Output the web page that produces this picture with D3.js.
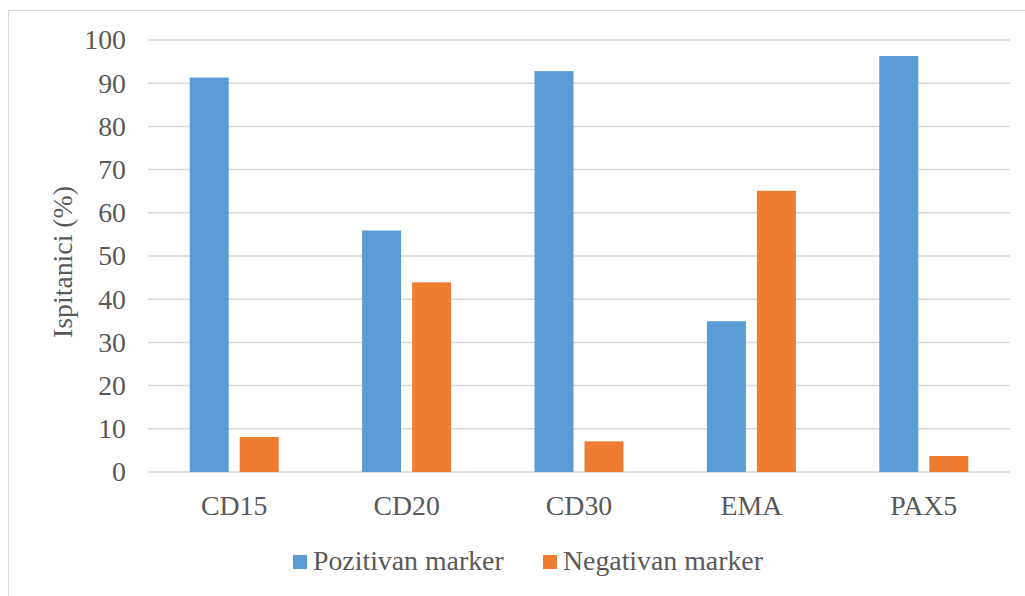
<!DOCTYPE html>
<html>
<head>
<meta charset="utf-8">
<script src="https://cdn.jsdelivr.net/npm/d3@7"></script>
<style>
  body { margin: 0; background: #fff; }
  svg text { font-family: "Liberation Serif", "Times New Roman", Times, "DejaVu Serif", serif !important; fill: #595959; }
</style>
</head>
<body>
<svg id="mainSvg"></svg>
<script>
const categories = ['CD15', 'CD20', 'CD30', 'EMA', 'PAX5'];
const seriesNames = ['Pozitivan marker', 'Negativan marker'];
const pozitivan = [91.3, 55.9, 92.8, 34.9, 96.3];
const negativan = [8.1, 43.9, 7.1, 65.1, 3.7];
const yTicks = [0, 10, 20, 30, 40, 50, 60, 70, 80, 90, 100];
const colors = ['#5B9BD5', '#ED7D31'];

const width = 1025;
const height = 596;
const plot = { left: 148, right: 1010, top: 40, bottom: 472 };
const fontSize = '27.8px';
const groupWidth = 89;

const svg = d3.select('#mainSvg')
  .attr('width', width)
  .attr('height', height);

// chart frame (right/bottom edges fall outside the picture)
svg.append('rect')
  .attr('x', 8.5).attr('y', 10.5)
  .attr('width', 1030).attr('height', 600)
  .attr('fill', 'none')
  .attr('stroke', '#D9D9D9');

const xScale = d3.scaleBand()
  .domain(categories)
  .range([plot.left, plot.right]);

const xInner = d3.scaleBand()
  .domain(seriesNames)
  .range([0, groupWidth])
  .paddingInner(0.22);

const yScale = d3.scaleLinear()
  .domain([0, 100])
  .range([plot.bottom, plot.top]);

// gridlines
svg.append('g')
  .selectAll('line')
  .data(yTicks)
  .enter()
  .append('line')
  .attr('x1', plot.left)
  .attr('x2', plot.right)
  .attr('y1', d => yScale(d))
  .attr('y2', d => yScale(d))
  .attr('stroke', '#D9D9D9')
  .attr('stroke-width', 1.5);

// y axis labels
const yAxis = d3.axisLeft(yScale).tickValues(yTicks).tickSize(0).tickPadding(0);
svg.append('g')
  .attr('transform', `translate(126,0)`)
  .call(yAxis)
  .attr('font-family', null)
  .attr('font-size', null)
  .call(g => g.select('.domain').remove())
  .selectAll('text')
  .style('font-size', fontSize)
  .attr('fill', '#595959');

// x axis labels
const xAxis = d3.axisBottom(xScale).tickSize(0).tickPadding(0);
svg.append('g')
  .attr('transform', `translate(0,${plot.bottom})`)
  .call(xAxis)
  .attr('font-family', null)
  .attr('font-size', null)
  .call(g => g.select('.domain').remove())
  .selectAll('text')
  .attr('dy', null)
  .attr('y', 43)
  .style('font-size', fontSize)
  .attr('fill', '#595959');

// bars
const rows = categories.map((c, i) => ({ cat: c, values: [pozitivan[i], negativan[i]] }));
const groups = svg.append('g')
  .selectAll('g')
  .data(rows)
  .enter()
  .append('g')
  .attr('transform', d => `translate(${xScale(d.cat) + xScale.bandwidth() / 2 - groupWidth / 2},0)`);

groups.selectAll('rect')
  .data(d => d.values.map((v, j) => ({ name: seriesNames[j], value: v, j })))
  .enter()
  .append('rect')
  .attr('x', d => xInner(d.name))
  .attr('width', xInner.bandwidth())
  .attr('y', d => yScale(d.value))
  .attr('height', d => plot.bottom - yScale(d.value))
  .attr('fill', d => colors[d.j]);

// y title
svg.append('text')
  .attr('transform', 'rotate(-90)')
  .attr('x', -262)
  .attr('y', 72)
  .style('text-anchor', 'middle')
  .style('font-size', fontSize)
  .text('Ispitanici (%)');

// legend
const legendX = [293, 543];
const legend = svg.append('g')
  .selectAll('g')
  .data(seriesNames)
  .enter()
  .append('g')
  .attr('transform', (d, i) => `translate(${legendX[i]},555)`);

legend.append('rect')
  .attr('width', 14).attr('height', 14)
  .attr('fill', (d, i) => colors[i]);

legend.append('text')
  .attr('x', 20)
  .attr('y', 15)
  .style('font-size', fontSize)
  .text(d => d);
</script>
</body>
</html>
